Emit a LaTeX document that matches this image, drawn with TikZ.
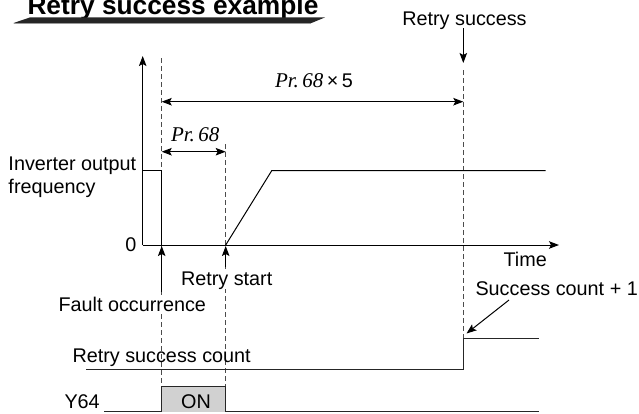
\documentclass[tikz,border=0pt]{standalone}
\usepackage{fontspec}
\setmainfont{Liberation Sans}
\newfontfamily\serifit{Liberation Serif}
\usetikzlibrary{arrows.meta}
\begin{document}
\begin{tikzpicture}[x=1pt,y=-1pt,line width=1pt,
  txt/.style={inner sep=0pt,font=\fontsize{19.8pt}{23pt}\selectfont},
  ser/.style={inner sep=0pt,font=\fontsize{21pt}{24pt}\selectfont\serifit\itshape},
  arr/.style={-{Stealth[length=10pt,width=7.5pt,inset=2pt]}},
  darr/.style={{Stealth[length=10pt,width=7.5pt,inset=2pt]}-{Stealth[length=10pt,width=7.5pt,inset=2pt]}},
  guide/.style={black!70,line width=0.9pt,dash pattern=on 5pt off 3pt},
  sig/.style={black,line width=1pt,line join=miter}]
\useasboundingbox (0,0) rectangle (639,413);
\clip (0,0) rectangle (639,413);
% title
\node[inner sep=0pt,anchor=base west,font=\fontsize{26.3pt}{30pt}\selectfont\bfseries] (title) at (27,14) {Retry success example};
\fill[black!85] (13,23.2) -- (30,17.4) -- (325,17.4) -- (311,23.2) -- cycle;
\draw[black!40,line width=0.6pt] (14,23.6) -- (311,23.6);
% coordinates
\coordinate (O) at (142.7,245);
\coordinate (Ytop) at (142.7,56);
\coordinate (Xend) at (559,245);
\coordinate (Fa) at (161.7,58);
\coordinate (Fb) at (161.7,387);
\coordinate (Ra) at (225.7,144);
\coordinate (Rb) at (225.7,387);
\coordinate (Sa) at (463.3,70);
\coordinate (Sb) at (463.3,338);
% guide lines
\draw[guide] (Fa) -- (Fb);
\draw[guide] (Ra) -- (Rb);
\draw[guide] (Sa) -- (Sb);
% axes
\draw[arr] (O) -- (Ytop);
\draw[arr] (O) -- (Xend);
% frequency signal
\draw[sig] (142.7,170.7) -- (161.7,170.7) -- (161.7,245);
\draw[sig] (225.7,245) -- (271.7,170.7) -- (545.7,170.7);
% time spans
\coordinate (P5a) at (161.7,101.7);
\coordinate (P5b) at (463.3,101.7);
\draw[darr] (P5a) -- (P5b);
\coordinate (P1a) at (161.7,151.7);
\coordinate (P1b) at (225.7,151.7);
\draw[darr] (P1a) -- (P1b);
\node[ser,anchor=base west] (p5) at (274.5,87) {Pr.\,68\,{\upshape\fontsize{19.8pt}{23pt}\selectfont\rmfamily ×\,5}};
\node[ser,anchor=base west] (p1) at (170.5,141) {Pr.\,68};
% labels
\node[txt,anchor=base west] (inv1) at (8,170.3) {Inverter output};
\node[txt,anchor=base west] (inv2) at (8,193.3) {frequency};
\node[txt,anchor=base east] (zero) at (137,251) {0};
\node[txt,anchor=base west] (time) at (503,266) {Time};
\node[txt,anchor=base] (rs) at (464.5,25) {Retry success};
\coordinate (rsA) at (463.3,28);
\coordinate (rsB) at (463.3,63);
\draw[arr] (rsA) -- (rsB);
\node[txt,anchor=base west,fill=white] (rst) at (180.5,285) {Retry start};
\coordinate (rstA) at (225.7,267);
\coordinate (rstB) at (225.7,246);
\draw[arr] (rstA) -- (rstB);
\node[txt,anchor=base west,fill=white,inner ysep=1pt] (fault) at (58,311.5) {Fault occurrence};
\coordinate (fA) at (161.7,291.5);
\coordinate (fB) at (161.7,246);
\draw[arr] (fA) -- (fB);
% retry success count
\node[txt,anchor=base west] (cnt) at (72,362.7) {Retry success count};
\draw[sig,black!85] (86,369.3) -- (463.3,369.3) -- (463.3,338.3) -- (539,338.3);
\node[txt,anchor=base west] (sc) at (475,295) {Success count + 1};
\coordinate (scA) at (509,300);
\coordinate (scB) at (466.5,333.5);
\draw[arr] (scA) -- (scB);
% Y64
\fill[black!18] (161.7,386.7) rectangle (225.7,411.5);
\draw[sig,black!85] (104,411.5) -- (161.7,411.5) -- (161.7,386.7) -- (225.7,386.7) -- (225.7,411.5) -- (539,411.5);
\node[txt,anchor=base] (on) at (196,408.5) {ON};
\node[txt,anchor=base west] (y64) at (64,408.5) {Y64};
\end{tikzpicture}
\end{document}
